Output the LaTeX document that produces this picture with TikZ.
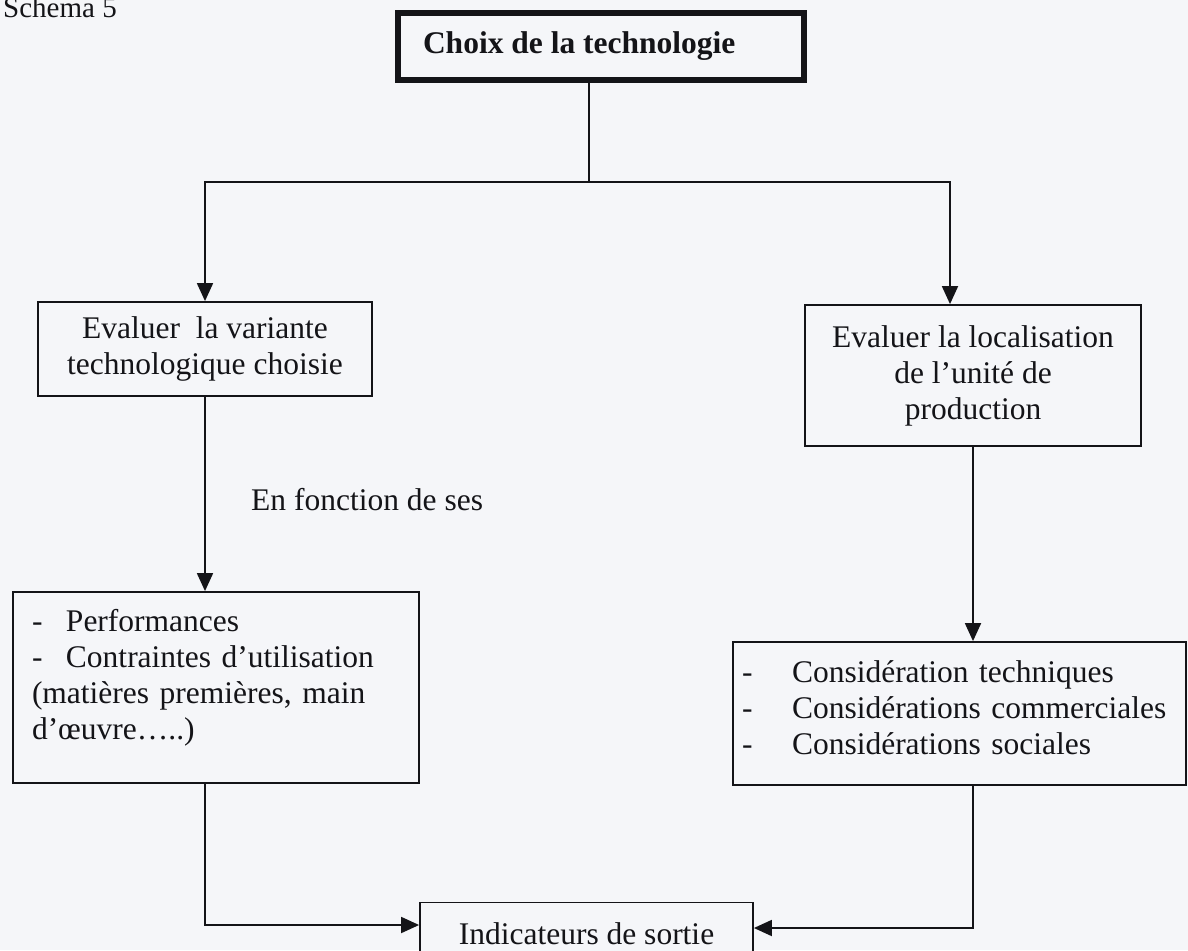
\documentclass[tikz,border=0pt]{standalone}
\usepackage{fontspec}
\setmainfont{Liberation Serif}
\usetikzlibrary{arrows.meta}
\definecolor{paper}{RGB}{245,246,249}
\definecolor{ink}{RGB}{20,20,24}
\tikzset{
  box/.style={draw=ink, fill=paper, line width=1.8pt, inner sep=0pt},
  boxtext/.style={font=\fontsize{31.5}{36}\selectfont, text=ink}
}

\begin{document}
\begin{tikzpicture}[x=1pt, y=-1pt, line width=1.8pt, draw=ink, >={Triangle[length=18pt,width=16pt]}, every node/.style={boxtext}]
      \useasboundingbox (0,0) rectangle (1188,950);
      \clip (0,0) rectangle (1188,950);
      \fill[paper] (0,0) rectangle (1188,950); % the scanned page

      \node[anchor=base west, font=\fontsize{29}{33}\selectfont] (titre) at (-1,18) {Schema 5};

      \node[box, line width=5.5pt, minimum width=406pt, minimum height=67pt, text width=356pt, align=flush left, font=\bfseries\fontsize{31.5}{36}\selectfont] (choix) at (601,46.5) {Choix de la technologie}; % the thick box on top

      \node[box, minimum width=334pt, minimum height=94pt, align=center] (variante) at (205,349) {Evaluer\ \ la variante\\technologique choisie};
      \node[box, minimum width=336pt, minimum height=141pt, align=center] (localisation) at (973,375.5) {Evaluer la localisation\\de l’unité de\\production};

      \node[anchor=base west] (fonction) at (247,510) {En fonction de ses};

      \node[box, minimum width=406pt, minimum height=191pt, text width=368pt, align=left] (perf) at (216,687.5) {\makebox[34pt][l]{-}Performances\\
            \makebox[34pt][l]{-}Contraintes d’utilisation\\
            (matières premières, main\\
            d’œuvre…..)\par\vspace{19pt}};
      \node[box, minimum width=453pt, minimum height=143pt, text width=435pt, align=left] (considerations) at (959.5,713.5) {\makebox[50pt][l]{-}Considération techniques\\
            \makebox[50pt][l]{-}Considérations commerciales\\
            \makebox[50pt][l]{-}Considérations sociales\par\vspace{12pt}};

      \node[box, minimum width=333pt, minimum height=63pt] (sortie) at (586.5,934) {Indicateurs de sortie}; % cut by the lower edge

      \coordinate (split) at (589,182); % where the top line branches
      \coordinate (rdrop) at (950,182);
      \draw (choix.south -| split) -- (split);
      \draw[->] (split) -| (variante.north);
      \draw[->] (split) -- (rdrop) -- (rdrop |- localisation.north);

      \draw[->] (variante.south) -- (variante.south |- perf.north);
      \draw[->] (localisation.south) -- (localisation.south |- considerations.north);

      \draw[->] (perf.south -| variante.south) |- ([yshift=9pt]sortie.west); % left branch into the output box
      \draw[->] (considerations.south -| localisation.south) |- ([yshift=6pt]sortie.east);
\end{tikzpicture}
\end{document}
